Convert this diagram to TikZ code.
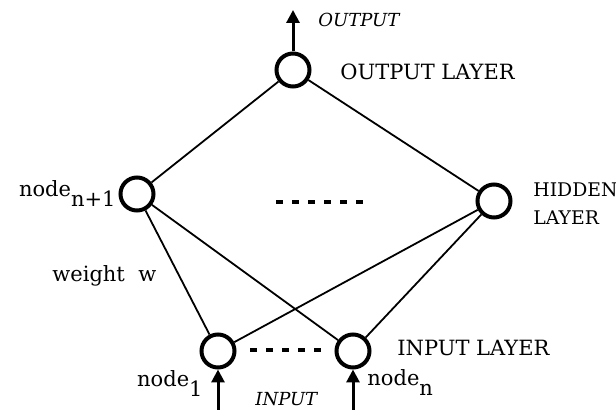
\documentclass[tikz,border=0pt]{standalone}
\usepackage{fontspec}
\setmainfont{DejaVu Serif}
\usetikzlibrary{calc,arrows.meta}

\newcommand{\lowidx}[1]{\raisebox{-0.45em}{#1}}

\begin{document}
\begin{tikzpicture}[x=0.5pt, y=-0.5pt, font=\fontsize{10.5}{14}\selectfont,
  neuron/.style={circle, draw, line width=2pt, minimum size=16.5pt, inner sep=0pt},
  wire/.style={line width=0.9pt},
  sig/.style={line width=1.5pt, -{Triangle[length=6.5pt, width=6.5pt]}},
  dots/.style={line width=2pt, dash pattern=on 3.5pt off 4.5pt},
  lbl/.style={inner sep=0pt},
  tag/.style={inner sep=0pt, font=\fontsize{9}{10}\selectfont\itshape}]
\useasboundingbox (0,0) rectangle (616,410);
%\draw (0,0) rectangle (616,410);

\coordinate (out) at (293,70);
\coordinate (hid1) at ($(out) + (-156,124)$);
\coordinate (hid2) at ($(out) + (201,131)$);
\coordinate (in1) at ($(out) + (-75,281)$);
\coordinate (inn) at ($(in1) + (135,0)$);

\coordinate (outtip) at ($(out) + (0,-60)$);
\coordinate (in1src) at ($(in1) + (0,64)$);
\coordinate (innsrc) at ($(inn) + (0,64)$);

\node (o) [neuron] at (out) {};
\node (h1) [neuron] at (hid1) {};
\node (h2) [neuron] at (hid2) {};
\node (i1) [neuron] at (in1) {};
\node (in) [neuron] at (inn) {};

% output -> hidden -> input
\draw [wire] (o) -- (h1);
\draw [wire] (o) -- (h2);
\draw [wire] (h1) -- (i1);
\draw [wire] (h1) -- (in);
\draw [wire] (h2) -- (i1);
\draw [wire] (h2) -- (in);

\draw [sig] (o) -- (outtip);
\draw [sig] (in1src) -- (i1);
\draw [sig] (innsrc) -- (in);

% the nodes left out
\draw [dots] ($(hid1) + (139,8)$) -- ++(87,0);
\draw [dots] ($(in1) + (32,-1)$) -- ++(71,0);

\node [tag, anchor=west] at ($(outtip) + (25,10)$) {OUTPUT};
\node [lbl, anchor=west] at ($(out) + (47,2)$) {OUTPUT LAYER};
\node [lbl, anchor=base east] at ($(hid1) + (-21,3)$) {node\lowidx{n+1}};
\node [lbl, anchor=west, align=left, font=\fontsize{9.4}{14}\selectfont]
  at ($(hid2) + (39,3)$) {HIDDEN\\LAYER};
\node [lbl, anchor=base west] at (52,282) {weight~~w};
\node [lbl, anchor=west] at ($(inn) + (44,-3)$) {INPUT LAYER};
\node [lbl, anchor=base east] at ($(in1) + (-15,36)$) {node\lowidx{1}};
\node [lbl, anchor=base west] at ($(inn) + (14,35)$) {node\lowidx{n}};
\node [tag, anchor=west] at ($(in1) + (37,48)$) {INPUT};

\end{tikzpicture}
\end{document}
